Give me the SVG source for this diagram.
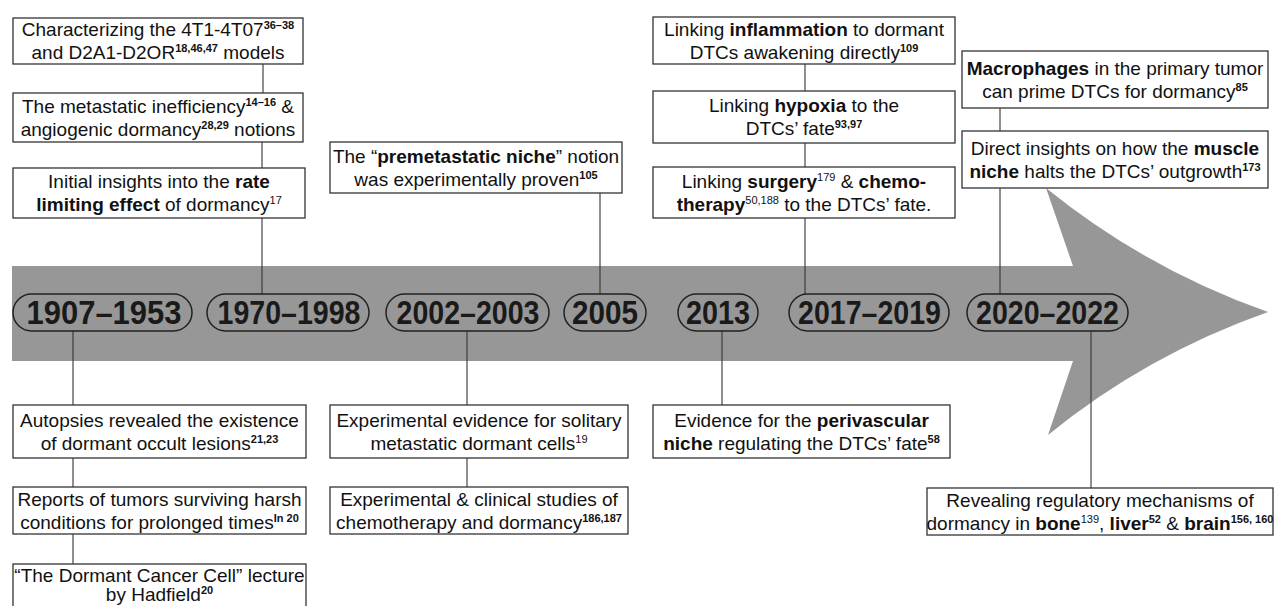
<svg xmlns="http://www.w3.org/2000/svg" width="1275" height="606" viewBox="0 0 1275 606">
<style>
.box{fill:#fff;stroke:#333;stroke-width:1.3}
.pill{fill:none;stroke:#222;stroke-width:1.5}
.ln{stroke:#333;stroke-width:1.1;fill:none}
.t{font-family:"Liberation Sans",Arial,sans-serif;font-size:19px;fill:#111;text-anchor:middle}
.b{font-weight:bold}
.s{font-size:11px;font-weight:bold}
.sn{font-size:11px}
.yr{font-family:"Liberation Sans",Arial,sans-serif;font-size:33px;font-weight:bold;fill:#1a1a1a;text-anchor:middle}
</style>
<rect width="1275" height="606" fill="#fff"/>
<path id="timeline-arrow" d="M12,266 H1073 L1046,188 Q1146,269 1268,312 Q1146,355 1048,435 L1073,361 H12 Z" fill="#979797"/>
<g id="connectors">
<line class="ln" x1="263" y1="64" x2="263" y2="93"/>
<line class="ln" x1="262" y1="142" x2="262" y2="168"/>
<line class="ln" x1="262" y1="218" x2="262" y2="294"/>
<line class="ln" x1="600" y1="193" x2="600" y2="294"/>
<line class="ln" x1="805" y1="64" x2="805" y2="91"/>
<line class="ln" x1="805" y1="143" x2="805" y2="167"/>
<line class="ln" x1="805" y1="218" x2="805" y2="294"/>
<line class="ln" x1="1000" y1="108" x2="1000" y2="131"/>
<line class="ln" x1="1000" y1="188" x2="1000" y2="294"/>
<line class="ln" x1="73" y1="331" x2="73" y2="405"/>
<line class="ln" x1="73" y1="458" x2="73" y2="487"/>
<line class="ln" x1="73" y1="534" x2="73" y2="564"/>
<line class="ln" x1="467" y1="331" x2="467" y2="405"/>
<line class="ln" x1="467" y1="458" x2="467" y2="487"/>
<line class="ln" x1="722" y1="331" x2="722" y2="405"/>
<line class="ln" x1="1091" y1="331" x2="1091" y2="488"/>
</g>
<g id="p1907"><rect class="pill" x="13" y="294" width="179" height="37" rx="18.5"/><text class="yr" x="104" y="324" textLength="155" lengthAdjust="spacingAndGlyphs">1907–1953</text></g>
<g id="p1970"><rect class="pill" x="207" y="294" width="162" height="37" rx="18.5"/><text class="yr" x="289" y="324" textLength="143" lengthAdjust="spacingAndGlyphs">1970–1998</text></g>
<g id="p2002"><rect class="pill" x="386" y="294" width="163" height="37" rx="18.5"/><text class="yr" x="468" y="324" textLength="143" lengthAdjust="spacingAndGlyphs">2002–2003</text></g>
<g id="p2005"><rect class="pill" x="564" y="294" width="82" height="37" rx="18.5"/><text class="yr" x="605" y="324" textLength="66" lengthAdjust="spacingAndGlyphs">2005</text></g>
<g id="p2013"><rect class="pill" x="678" y="294" width="80" height="37" rx="18.5"/><text class="yr" x="718" y="324" textLength="64" lengthAdjust="spacingAndGlyphs">2013</text></g>
<g id="p2017"><rect class="pill" x="789" y="294" width="160" height="37" rx="18.5"/><text class="yr" x="869.5" y="324" textLength="143" lengthAdjust="spacingAndGlyphs">2017–2019</text></g>
<g id="p2020"><rect class="pill" x="967" y="294" width="161" height="37" rx="18.5"/><text class="yr" x="1047.5" y="324" textLength="143" lengthAdjust="spacingAndGlyphs">2020–2022</text></g>
<g id="nA"><rect class="box" x="13" y="18" width="290" height="46"/>
<text class="t" x="158" y="36">Characterizing the 4T1-4T07<tspan class="s" dy="-7">36–38</tspan></text>
<text class="t" x="158" y="59">and D2A1-D2OR<tspan class="s" dy="-7">18,46,47</tspan><tspan dy="7"> models</tspan></text></g>
<g id="nB"><rect class="box" x="13" y="93" width="290" height="49"/>
<text class="t" x="158" y="112.5">The metastatic inefficiency<tspan class="s" dy="-7">14–16</tspan><tspan dy="7"> &amp;</tspan></text>
<text class="t" x="158" y="135.5">angiogenic dormancy<tspan class="s" dy="-7">28,29</tspan><tspan dy="7"> notions</tspan></text></g>
<g id="nC"><rect class="box" x="13" y="168" width="292" height="50"/>
<text class="t" x="159" y="188">Initial insights into the <tspan class="b">rate</tspan></text>
<text class="t" x="159" y="211"><tspan class="b">limiting effect</tspan> of dormancy<tspan class="sn" dy="-7">17</tspan></text></g>
<g id="nPremet"><rect class="box" x="330" y="142" width="292" height="51"/>
<text class="t" x="476" y="162.5">The “<tspan class="b">premetastatic niche</tspan>” notion</text>
<text class="t" x="476" y="185.5">was experimentally proven<tspan class="s" dy="-7">105</tspan></text></g>
<g id="nInfl"><rect class="box" x="653" y="17" width="302" height="47"/>
<text class="t" x="804" y="35.5">Linking <tspan class="b">inflammation</tspan> to dormant</text>
<text class="t" x="804" y="58.5">DTCs awakening directly<tspan class="s" dy="-7">109</tspan></text></g>
<g id="nHyp"><rect class="box" x="653" y="91" width="302" height="52"/>
<text class="t" x="804" y="112">Linking <tspan class="b">hypoxia</tspan> to the</text>
<text class="t" x="804" y="135">DTCs’ fate<tspan class="s" dy="-7">93,97</tspan></text></g>
<g id="nSurg"><rect class="box" x="653" y="167" width="302" height="51"/>
<text class="t" x="804" y="187.5">Linking <tspan class="b">surgery</tspan><tspan class="sn" dy="-7">179</tspan><tspan dy="7"> &amp; </tspan><tspan class="b">chemo-</tspan></text>
<text class="t" x="804" y="210.5"><tspan class="b">therapy</tspan><tspan class="sn" dy="-7">50,188</tspan><tspan dy="7"> to the DTCs’ fate.</tspan></text></g>
<g id="nMacro"><rect class="box" x="962" y="51" width="306" height="57"/>
<text class="t" x="1115" y="74.5"><tspan class="b">Macrophages</tspan> in the primary tumor</text>
<text class="t" x="1115" y="97.5">can prime DTCs for dormancy<tspan class="s" dy="-7">85</tspan></text></g>
<g id="nMuscle"><rect class="box" x="962" y="131" width="306" height="57"/>
<text class="t" x="1115" y="154.5">Direct insights on how the <tspan class="b">muscle</tspan></text>
<text class="t" x="1115" y="177.5"><tspan class="b">niche</tspan> halts the DTCs’ outgrowth<tspan class="s" dy="-7">173</tspan></text></g>
<g id="nAut"><rect class="box" x="13" y="405" width="293" height="53"/>
<text class="t" x="159.5" y="426.5">Autopsies revealed the existence</text>
<text class="t" x="159.5" y="449.5">of dormant occult lesions<tspan class="s" dy="-7">21,23</tspan></text></g>
<g id="nRep"><rect class="box" x="13" y="487" width="293" height="47"/>
<text class="t" x="159.5" y="505.5">Reports of tumors surviving harsh</text>
<text class="t" x="159.5" y="528.5">conditions for prolonged times<tspan class="s" dy="-7">In 20</tspan></text></g>
<g id="nDorm"><rect class="box" x="13" y="564" width="293" height="60"/>
<text class="t" x="159.5" y="582">“The Dormant Cancer Cell” lecture</text>
<text class="t" x="159.5" y="601">by Hadfield<tspan class="s" dy="-7">20</tspan></text></g>
<g id="nExp"><rect class="box" x="330" y="405" width="298" height="53"/>
<text class="t" x="479" y="426.5">Experimental evidence for solitary</text>
<text class="t" x="479" y="449.5">metastatic dormant cells<tspan class="sn" dy="-7">19</tspan></text></g>
<g id="nClin"><rect class="box" x="330" y="487" width="298" height="47"/>
<text class="t" x="479" y="505.5">Experimental &amp; clinical studies of</text>
<text class="t" x="479" y="528.5">chemotherapy and dormancy<tspan class="s" dy="-7">186,187</tspan></text></g>
<g id="nPeri"><rect class="box" x="653" y="405" width="297" height="53"/>
<text class="t" x="801.5" y="426.5">Evidence for the <tspan class="b">perivascular</tspan></text>
<text class="t" x="801.5" y="449.5"><tspan class="b">niche</tspan> regulating the DTCs’ fate<tspan class="s" dy="-7">58</tspan></text></g>
<g id="nRev"><rect class="box" x="927" y="488" width="346" height="47"/>
<text class="t" x="1100" y="506.5">Revealing regulatory mechanisms of</text>
<text class="t" x="1100" y="529.5">dormancy in <tspan class="b">bone</tspan><tspan class="sn" dy="-7">139</tspan><tspan dy="7">, </tspan><tspan class="b">liver</tspan><tspan class="s" dy="-7">52</tspan><tspan dy="7"> &amp; </tspan><tspan class="b">brain</tspan><tspan class="s" dy="-7">156, 160</tspan></text></g>
</svg>
